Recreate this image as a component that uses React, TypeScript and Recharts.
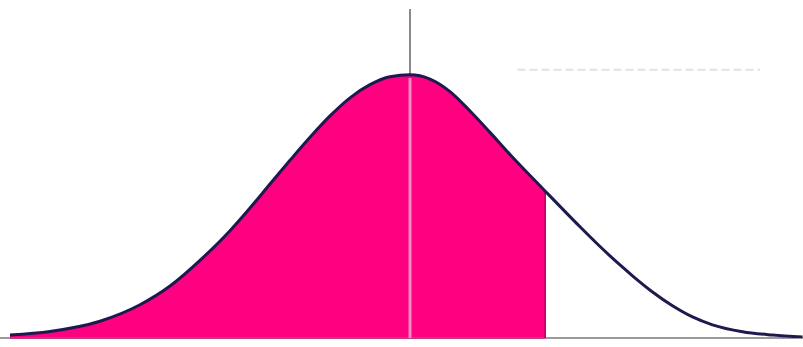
import React from "react";
import { ComposedChart, Area, Line, XAxis, YAxis, ReferenceLine } from "recharts";

// x positions (in standard-deviation-like units)
const xValues = [
  -3.2, -2.88, -2.48, -2.16, -1.92, -1.68, -1.44, -1.28, -1.12, -0.96, -0.8, -0.64, -0.48, -0.32, -0.16, 0,
  0.16, 0.32, 0.48, 0.64, 0.8, 0.96, 1.08, 1.2, 1.36, 1.52, 1.68, 1.78, 1.94, 2.1, 2.26, 2.42, 2.66, 2.9, 3.14,
];
// curve height at each x
const densityValues = [
  0.0046, 0.01, 0.0255, 0.0505, 0.079, 0.118, 0.163, 0.1975, 0.234, 0.27, 0.305, 0.3375, 0.365, 0.385, 0.397, 0.4,
  0.3935, 0.3745, 0.345, 0.3125, 0.279, 0.247, 0.2235, 0.2, 0.169, 0.139, 0.111, 0.0945, 0.07, 0.049, 0.032, 0.02, 0.0095, 0.0045, 0.0015,
];
// shaded area extends up to this x
const shadeLimit = 1.08;
const shadeTop = 0.2235;
const peak = 0.4;

const data = xValues.map((x, i) => ({
  x,
  density: densityValues[i],
  shade: x <= shadeLimit ? densityValues[i] : null,
}));

const X_DOMAIN: [number, number] = [-3.28, 3.144];
const Y_DOMAIN: [number, number] = [0, 0.5];

export default function App() {
  return (
    <div style={{ position: "absolute", left: 0, top: 0, background: "#ffffff" }}>
      <ComposedChart width={803} height={347} data={data} margin={{ top: 9, right: 0, bottom: 9, left: 0 }}>
        <XAxis dataKey="x" type="number" domain={X_DOMAIN} hide allowDataOverflow />
        <YAxis type="number" domain={Y_DOMAIN} hide allowDataOverflow />
        <Area
          dataKey="shade"
          type="monotone"
          fill="#ff0080"
          fillOpacity={1}
          stroke="none"
          baseValue={0}
          isAnimationActive={false}
          connectNulls={false}
        />
        <ReferenceLine
          segment={[{ x: X_DOMAIN[0], y: 0 }, { x: X_DOMAIN[1], y: 0 }]}
          stroke="#9a9a9a"
          strokeWidth={2}
        />
        <ReferenceLine
          segment={[{ x: xValues[0], y: 0 }, { x: shadeLimit, y: 0 }]}
          stroke="#c03a80"
          strokeWidth={2}
        />
        <ReferenceLine
          segment={[{ x: 0, y: peak }, { x: 0, y: 0.5 }]}
          stroke="#8a8a8a"
          strokeWidth={2}
        />
        <ReferenceLine
          segment={[{ x: 0, y: -0.02 }, { x: 0, y: 0 }]}
          stroke="#8a8a8a"
          strokeWidth={2}
        />
        <ReferenceLine
          segment={[{ x: 0, y: 0 }, { x: 0, y: 0.395 }]}
          stroke="#f58cc4"
          strokeWidth={3}
        />
        <ReferenceLine
          segment={[{ x: shadeLimit, y: 0 }, { x: shadeLimit, y: shadeTop }]}
          stroke="#d0006c"
          strokeWidth={2}
        />
        <ReferenceLine
          segment={[{ x: 0.86, y: 0.4076 }, { x: 2.8, y: 0.4076 }]}
          stroke="#e2e2e2"
          strokeWidth={2}
          strokeDasharray="8 4"
        />
        <Line
          dataKey="density"
          type="monotone"
          stroke="#1c1a4e"
          strokeWidth={3}
          dot={false}
          isAnimationActive={false}
        />
      </ComposedChart>
    </div>
  );
}
